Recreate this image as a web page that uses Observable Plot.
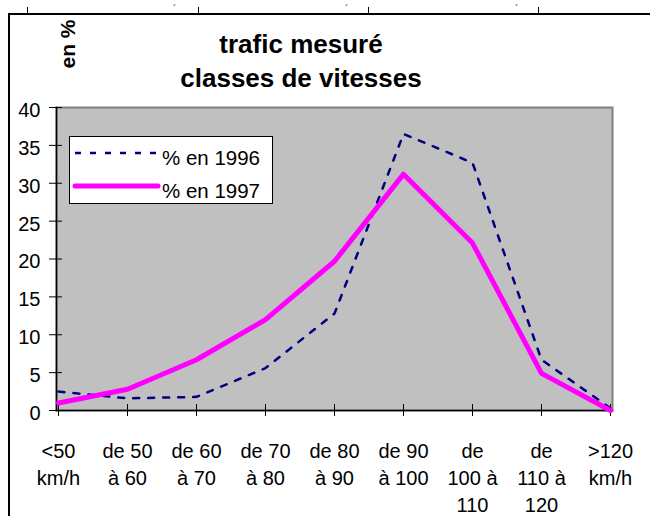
<!DOCTYPE html>
<html><head><meta charset="utf-8">
<script src="https://cdn.jsdelivr.net/npm/d3@7"></script>
<script src="https://cdn.jsdelivr.net/npm/@observablehq/plot@0.6"></script>
<style>
body{margin:0;background:#fff;}
#wrap{position:relative;width:650px;height:516px;overflow:hidden;font-family:"Liberation Sans",Arial,sans-serif;color:#000;}
#wrap svg.plot{position:absolute;left:0;top:0;}
.abs{position:absolute;white-space:nowrap;}
.title{left:0;width:602px;text-align:center;font-weight:bold;font-size:26px;line-height:26px;}
</style></head><body>
<div id="wrap"></div>
<script>
const categories = ["<50\nkm/h","de 50\nà 60","de 60\nà 70","de 70\nà 80","de 80\nà 90","de 90\nà 100","de\n100 à\n110","de\n110 à\n120",">120\nkm/h"];
const pct1996 = [2.5, 1.6, 1.8, 5.6, 12.8, 36.5, 32.7, 6.7, 0.3];
const pct1997 = [1.0, 2.8, 6.7, 12.0, 19.7, 31.2, 22.1, 4.9, 0.0];
const yTicks = [0, 5, 10, 15, 20, 25, 30, 35, 40];
const seriesNames = ["% en 1996", "% en 1997"];
const titleLines = ["trafic mesuré", "classes de vitesses"];
const yLabel = "en %";

const rows = categories.map((c, i) => ({cat: c, v96: pct1996[i], v97: pct1997[i]}));

const chart = Plot.plot({
  width: 650, height: 516,
  marginLeft: 56, marginRight: 38, marginTop: 107, marginBottom: 106,
  style: {fontFamily: "'Liberation Sans', Arial, sans-serif", fontSize: "20px", color: "#000", background: "transparent", overflow: "visible"},
  x: {type: "point", domain: categories, padding: 0, label: null},
  y: {domain: [0, 40], label: null},
  marks: [
    Plot.frame({fill: "#c0c0c0", stroke: "#808080", strokeWidth: 2}),
    Plot.frame({anchor: "left", stroke: "#000", strokeWidth: 1.5}),
    Plot.frame({anchor: "bottom", stroke: "#000", strokeWidth: 1.5}),
    Plot.axisY({ticks: yTicks, tickSize: 13, dx: 6, fill: "none", label: null}),
    Plot.axisY({ticks: yTicks, tickSize: 0, tickPadding: 16, dy: 3, label: null}),
    Plot.axisX({tickSize: 12, dy: -6, fill: "none", label: null}),
    Plot.axisX({tickSize: 0, tickPadding: 29, lineHeight: 1.33, label: null}),
    Plot.line(rows, {x: "cat", y: "v96", stroke: "#000080", strokeWidth: 2.5, strokeDasharray: "6,9"}),
    Plot.line(rows, {x: "cat", y: "v97", stroke: "#ff00ff", strokeWidth: 5})
  ]
});
chart.classList.add("plot");
const wrap = document.getElementById("wrap");
wrap.appendChild(chart);

// outer frame (cropped chart border)
const addDiv = (css, text) => { const d = document.createElement("div"); d.className = "abs"; d.style.cssText = css; if (text) d.textContent = text; wrap.appendChild(d); return d; };
addDiv("left:8px;top:13px;width:2px;height:503px;background:#000;");
addDiv("left:8px;top:13px;width:642px;height:2px;background:#000;");
[27, 198, 368, 538].forEach(x => addDiv(`left:${x}px;top:7px;width:1px;height:6px;background:#000;`));
[173, 345, 515].forEach(x => addDiv(`left:${x}px;top:5px;font-size:10px;line-height:10px;`, "´"));

// titles
titleLines.forEach((t, i) => { const d = addDiv(`top:${31 + i * 34}px;`, t); d.classList.add("title"); });
addDiv("left:67px;top:44px;font-weight:bold;font-size:21px;line-height:21px;transform:translate(-50%,-50%) rotate(-90deg);", yLabel);

// legend
const ns = "http://www.w3.org/2000/svg";
const lg = document.createElementNS(ns, "svg");
lg.setAttribute("width", 204); lg.setAttribute("height", 68);
lg.style.cssText = "position:absolute;left:69px;top:136px;";
lg.innerHTML = `<rect x="0.5" y="0.5" width="203" height="67" fill="#fff" stroke="#000" stroke-width="1"/>
<line x1="6" x2="91" y1="17" y2="17" stroke="#000080" stroke-width="2.5" stroke-dasharray="6,9"/>
<line x1="6" x2="89" y1="50" y2="50" stroke="#ff00ff" stroke-width="5" stroke-linecap="round"/>
<text x="93" y="29" font-size="20.5" font-family="'Liberation Sans', Arial, sans-serif">${seriesNames[0]}</text>
<text x="93" y="62" font-size="20.5" font-family="'Liberation Sans', Arial, sans-serif">${seriesNames[1]}</text>`;
wrap.appendChild(lg);
</script>
</body></html>
